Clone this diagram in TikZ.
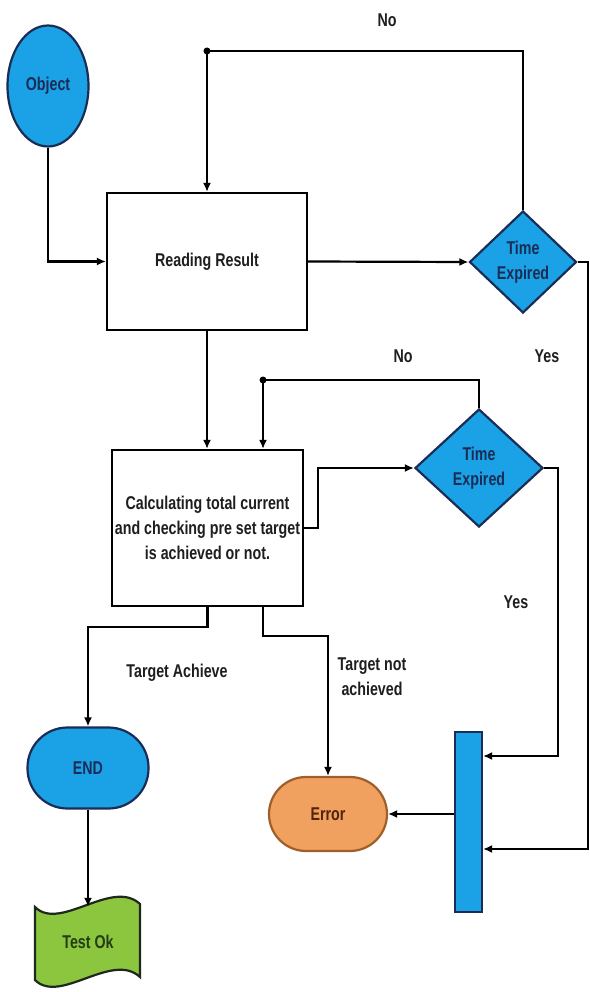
\documentclass[tikz,border=0pt]{standalone}
\usepackage{fontspec}
\setmainfont[FakeStretch=0.77]{Liberation Sans}
\usetikzlibrary{shapes.geometric,arrows.meta}
\definecolor{fillblue}{RGB}{27,161,230}
\definecolor{navy}{RGB}{25,45,85}
\definecolor{errfill}{RGB}{240,160,95}
\definecolor{errline}{RGB}{160,95,40}
\definecolor{errtext}{RGB}{80,35,10}
\definecolor{okfill}{RGB}{140,198,63}
\definecolor{okline}{RGB}{30,40,30}
\definecolor{oktext}{RGB}{35,60,20}
\definecolor{lbl}{RGB}{30,30,30}
\begin{document}
\begin{tikzpicture}[x=1pt,y=-1pt,
  txt/.style={font=\fontsize{18.5}{25}\selectfont\bfseries, align=center},
  box/.style={txt, draw=black, line width=2.2pt, fill=white, inner sep=0pt, text=lbl},
  dec/.style={txt, diamond, draw=navy, fill=fillblue, line width=2.2pt, inner sep=0pt, text=navy},
  term/.style={txt, rectangle, line width=2.2pt, inner sep=0pt},
  conn/.style={line width=2.2pt, -{Latex[length=9pt,width=8pt]}},
  wire/.style={line width=2.2pt},
  lab/.style={txt, text=lbl},
  jdot/.style={circle, fill=black, inner sep=0pt, minimum size=7pt}
]
\useasboundingbox[fill=white] (0,0) rectangle (589,992);

% nodes
\node[txt, ellipse, draw=navy, fill=fillblue, line width=2.2pt, minimum width=81pt, minimum height=121pt, inner sep=0pt, text=navy] (obj) at (48,86) {Object};
\node[box, minimum width=200pt, minimum height=137pt] (rr) at (207,261.5) {Reading Result};
\node[dec, minimum width=107pt, minimum height=102pt] (d1) at (523,262) {Time\\Expired};
\node[box, minimum width=191pt, minimum height=156pt] (calc) at (207.5,528) {Calculating total current\\and checking pre set target\\is achieved or not.};
\node[dec, minimum width=128pt, minimum height=118pt] (d2) at (479,468) {Time\\Expired};
\node[term, rounded corners=40pt, draw=navy, fill=fillblue, text=navy, minimum width=121pt, minimum height=81pt] (end) at (88,768) {END};
\node[term, rounded corners=37pt, draw=errline, fill=errfill, text=errtext, minimum width=118pt, minimum height=74pt] (err) at (328,814) {Error};
\node[draw=navy, fill=fillblue, line width=2.2pt, minimum width=27pt, minimum height=180pt, inner sep=0pt] (bar) at (468.5,822) {};

% Test Ok (punched tape shape)
\draw[line width=2.2pt, draw=okline, fill=okfill] (35,907) .. controls (60,932) and (112,878) .. (140,904) -- (140,977) .. controls (112,951) and (60,1005) .. (35,980) -- cycle;
\node[txt, text=oktext, minimum height=70pt, minimum width=105pt, inner sep=0pt] (ok) at (88,942) {Test Ok};

% connectors
\draw[conn] (obj.south) |- (rr.west);
\coordinate (j1) at (207,51);
\draw[wire] (d1.north) |- (j1);
\draw[conn] (j1) -- (rr.north);
\node[jdot] (j1dot) at (j1) {};
\draw[conn] (rr.east) -- (d1.west);
\coordinate (re) at (588,849);
\draw[conn] (d1.east) -| (re) -- (bar.east |- re);
\draw[conn] (rr.south) -- (calc.north -| rr.south);
\coordinate (j2) at (263,380);
\draw[wire] (d2.north) |- (j2);
\draw[conn] (j2) -- (j2 |- calc.north);
\node[jdot] (j2dot) at (j2) {};
\draw[conn] (calc.east) -- ++(14,0) |- (d2.west);
\coordinate (c2) at (558,756);
\draw[conn] (d2.east) -| (c2) -- (bar.east |- c2);
\draw[conn] (calc.south) -- ++(0,20) -| (end.north);
\draw[conn] (calc.south -| j2) -- ++(0,29) -| (err.north);
\draw[conn] (bar.west |- err.east) -- (err.east);
\draw[conn] (end.south) -- (ok.north);

% labels
\node[lab] (no1) at (387,20) {No};
\node[lab] (no2) at (403,356) {No};
\node[lab] (yes1) at (547,356) {Yes};
\node[lab] (yes2) at (516,602) {Yes};
\node[lab] (ta) at (177,673) {Target Achieve};
\node[lab] (tna) at (372,677) {Target not\\achieved};
\end{tikzpicture}
\end{document}
